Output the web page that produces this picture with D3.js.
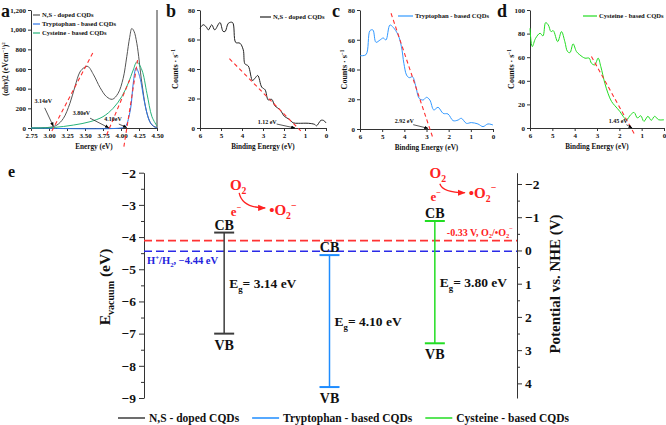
<!DOCTYPE html>
<html>
<head>
<meta charset="utf-8">
<script src="https://cdn.jsdelivr.net/npm/d3@7"></script>
<style>
body { margin: 0; background: #fff; }
svg text { font-family: 'Liberation Serif', 'Times New Roman', serif; font-weight: bold; }
</style>
</head>
<body>
<div id="chart"></div>
<script>
// ---- panel a : absorption (Tauc) curves ----
var absXTicks = [2.75, 3.00, 3.25, 3.50, 3.75, 4.00, 4.25, 4.50];
var absYTicks = [0, 200, 400, 600, 800, 1000, 1200];
var nsAbs = [[2.75,0],[2.9,2],[3.01,7],[3.11,30],[3.2,98],[3.29,250],[3.36,420],[3.43,570],[3.49,615],[3.54,626],[3.62,540],[3.71,410],[3.8,318],[3.88,292],[3.96,353],[4.03,505],[4.08,725],[4.12,920],[4.15,1012],[4.18,985],[4.22,861],[4.29,458],[4.36,152],[4.43,30],[4.5,5]];
var trpAbs = [[2.75,0],[4.0,0],[4.06,15],[4.13,183],[4.17,455],[4.21,612],[4.26,522],[4.33,251],[4.40,64],[4.47,8],[4.5,2]];
var cysAbs = [[2.75,0],[3.06,5],[3.34,30],[3.57,64],[3.75,115],[3.89,200],[4.01,318],[4.10,455],[4.17,590],[4.22,672],[4.29,590],[4.36,353],[4.43,115],[4.5,20]];
var absTangents = [[[3.04,-30],[3.62,780]], [[3.80,-71],[4.12,488]], [[4.04,-190],[4.23,690]]];
var absNotes = [
  {label: '3.14eV', text: [2.92, 250], from: [2.94, 205], to: [3.06, 18]},
  {label: '3.80eV', text: [3.45, 132], from: [3.57, 100], to: [3.83, 2]},
  {label: '4.10eV', text: [3.89, 75], from: [3.97, 40], to: [4.08, 5]}
];

// ---- panels b, c, d : UPS spectra ----
var upsXTicks = [6, 5, 4, 3, 2, 1, 0];
var upsYTicksB = [0, 20, 40, 60, 80];
var upsYTicksD = [0, 20, 40, 60, 80, 100];
var nsUps = [[6,67.6],[5.85,70],[5.7,68.5],[5.6,66.5],[5.44,70],[5.3,66.5],[5.05,71.5],[4.9,65.5],[4.8,65.5],[4.65,71],[4.45,71.5],[4.3,58],[4.1,57.5],[3.94,53],[3.86,43.5],[3.7,42],[3.5,32.2],[3.38,33.8],[3.25,35.6],[3.06,27.7],[2.9,25.9],[2.75,19],[2.59,19.5],[2.43,15],[2.19,12.4],[1.98,7.9],[1.76,6],[1.56,3.5],[1.32,3.2],[0.84,3.2],[0.55,2.5],[0.45,1.5],[0.24,5.2],[0.1,5],[0,3.4]];
var trpUps = [[6,49.3],[5.73,50],[5.55,66.1],[5.42,66.6],[5.28,58.3],[5.1,59.8],[4.95,61.2],[4.83,59.8],[4.65,69.9],[4.5,68.3],[4.28,63.2],[4.13,55.3],[4.02,44.1],[3.9,36.3],[3.78,34.5],[3.63,35.1],[3.48,28.5],[3.33,20.6],[3.15,19.5],[3.0,21.3],[2.85,19.5],[2.67,12.8],[2.48,14.6],[2.25,10.5],[2.03,10.1],[1.8,5.6],[1.58,6],[1.43,7.2],[1.2,3.8],[0.98,4.3],[0.68,3.4],[0.45,1.6],[0.23,3.4],[0,2.7]];
var cysUps = [[6,84.5],[5.9,69],[5.75,76],[5.55,80.3],[5.42,78],[5.3,89.3],[5.18,87.3],[5.06,81.7],[4.96,82.5],[4.76,73.2],[4.59,81.7],[4.44,73.2],[4.32,64.8],[4.21,63.9],[4.07,71.3],[3.92,64.8],[3.77,62],[3.54,59.2],[3.35,59.2],[3.25,54.9],[3.1,53.5],[2.95,59.2],[2.83,52.1],[2.65,38],[2.5,29],[2.35,22.5],[2.2,18.9],[1.98,14.1],[1.83,9.9],[1.68,7],[1.49,11.3],[1.34,13.2],[1.19,8.5],[1.04,10.4],[0.9,5.6],[0.72,9.9],[0.57,6.5],[0.42,9.9],[0.24,7],[0,7]];
var upsTangents = [[[4.6,47],[1.2,-2]], [[4.6,77.8],[2.73,-5.2]], [[3.25,60.6],[1.31,-5.6]]];
var upsNotes = [
  {label: '1.12 eV', text: [2.8, 2.7], from: [2.35, 2.7], to: [1.48, 0]},
  {label: '2.92 eV', text: [4.0, 4.3], from: [3.6, 2.9], to: [2.93, 0.45]},
  {label: '1.45 eV', text: [2.05, 4.2], from: [1.68, 2.8], to: [1.43, 0]}
];

// ---- panel e : band diagram ----
var bandNames = ['N,S - doped CQDs', 'Tryptophan - based CQDs', 'Cysteine - based CQDs'];
var bandColors = ['#3c3c3c', '#1e8cff', '#22dd22'];
var bandCB = [-3.86, -4.56, -3.50];
var bandVB = [-7.00, -8.66, -7.30];
var bandGap = ['3.14', '4.10', '3.80'];
var vacTicks = [-2, -3, -4, -5, -6, -7, -8, -9];
var nheTicks = [-2, -1, 0, 1, 2, 3, 4];
var levelE = [-4.11, -4.44]; // O2/.O2- and H+/H2
var o2Notes = [
  {bar: 0, e: -2.38, dx: 14, arrow: [1, 8, 27, 23], eDy: 31, oDy: 30},
  {bar: 2, e: -2.0, dx: 3, arrow: [2, 11, 27, 20], eDy: 28, oDy: 25}
];

var width = 666, height = 425;
var svg = d3.select('#chart').append('svg')
    .attr('width', width)
    .attr('height', height);

var defs = svg.append('defs');
function addMarker(id, color, size) {
    defs.append('marker')
        .attr('id', id)
        .attr('viewBox', '0 0 10 10')
        .attr('refX', 9).attr('refY', 5)
        .attr('markerWidth', size).attr('markerHeight', size)
        .attr('orient', 'auto')
      .append('path').attr('d', 'M0,1L10,5L0,9Z').attr('fill', color);
}
addMarker('arrK', '#000', 6);
addMarker('arrR', '#ff2222', 6);

//text with sub/superscripts, parts = [[str], [str,'sub'], [str,'sup']]
function addRich(g, x, y, parts, size, color, anchor) {
    var t = g.append('text')
        .attr('x', x).attr('y', y)
        .attr('font-size', size)
        .attr('fill', color || '#111')
        .attr('text-anchor', anchor || 'start');
    var shift = 0;
    parts.forEach(function (p) {
        var s = p[1] === 'sup' ? -0.42 * size : (p[1] === 'sub' ? 0.28 * size : 0);
        t.append('tspan')
            .attr('dy', s - shift)
            .attr('font-size', p[1] ? size * 0.65 : size)
            .text(p[0]);
        shift = s;
    });
    return t;
}

function styleAxis(g, size) {
    g.attr('font-family', null);
    g.selectAll('text').attr('font-size', size).attr('fill', '#111');
    g.selectAll('path, line').attr('stroke', '#333').attr('stroke-width', 1);
}

var smooth = d3.line().curve(d3.curveCatmullRom.alpha(0.5));

//draws one small spectrum panel
function buildPanel(opt) {
    var g = svg.append('g');
    var x = opt.x, y = opt.y;
    var xr = x.range(), yr = y.range();

    var xAxis = g.append('g')
        .attr('transform', 'translate(0,' + yr[0] + ')')
        .call(d3.axisBottom(x).tickValues(opt.xTicks).tickSize(3).tickSizeOuter(0).tickPadding(2).tickFormat(opt.xFmt));
    styleAxis(xAxis, 7);
    var yAxis = g.append('g')
        .attr('transform', 'translate(' + xr[0] + ',0)')
        .call(d3.axisLeft(y).tickValues(opt.yTicks).tickSize(3).tickSizeOuter(0).tickPadding(2));
    styleAxis(yAxis, 7);
    if (opt.rightBorder) {
        g.append('line').attr('x1', xr[1]).attr('x2', xr[1]).attr('y1', yr[0]).attr('y2', yr[1])
            .attr('stroke', '#333');
    }

    opt.series.forEach(function (s) {
        g.append('path')
            .attr('d', smooth(s.data.map(function (d) { return [x(d[0]), y(d[1])]; })))
            .attr('fill', 'none')
            .attr('stroke', s.color)
            .attr('stroke-width', 1);
    });

    opt.tangents.forEach(function (t) {
        g.append('line')
            .attr('x1', x(t[0][0])).attr('y1', y(t[0][1]))
            .attr('x2', x(t[1][0])).attr('y2', y(t[1][1]))
            .attr('stroke', '#ff3030')
            .attr('stroke-width', 1.1)
            .attr('stroke-dasharray', '4,3');
    });

    opt.notes.forEach(function (n) {
        g.append('text')
            .attr('x', x(n.text[0])).attr('y', y(n.text[1]))
            .attr('font-size', 6)
            .attr('text-anchor', 'middle')
            .attr('fill', '#111')
            .text(n.label);
        g.append('line')
            .attr('x1', x(n.from[0])).attr('y1', y(n.from[1]))
            .attr('x2', x(n.to[0])).attr('y2', y(n.to[1]))
            .attr('stroke', '#111').attr('stroke-width', 0.7)
            .attr('marker-end', 'url(#arrK)');
    });

    //legend
    var lx = opt.legend.x, ly = opt.legend.y;
    opt.series.forEach(function (s, i) {
        g.append('line')
            .attr('x1', lx).attr('x2', lx + opt.legend.len)
            .attr('y1', ly + i * 9).attr('y2', ly + i * 9)
            .attr('stroke', s.color).attr('stroke-width', 1.2);
        g.append('text')
            .attr('x', lx + opt.legend.len + 2).attr('y', ly + i * 9 + 2.3)
            .attr('font-size', 6.6).attr('fill', '#111')
            .text(s.name);
    });

    //axis titles
    g.append('text')
        .attr('x', (xr[0] + xr[1]) / 2).attr('y', yr[0] + 21)
        .attr('text-anchor', 'middle')
        .attr('font-size', 7.2).attr('fill', '#111')
        .text(opt.xTitle);
    var yt = g.append('g').attr('transform', 'translate(' + opt.yTitleX + ',' + ((yr[0] + yr[1]) / 2) + ') rotate(-90)');
    addRich(yt, 0, 0, opt.yTitle, opt.yTitleSize || 8, '#111', 'middle');

    g.append('text')
        .attr('x', opt.tag[0]).attr('y', opt.tag[1])
        .attr('font-size', 18).attr('fill', '#111')
        .text(opt.tagText);
}

var fmt2 = d3.format('.2f');

buildPanel({
    x: d3.scaleLinear().domain([2.75, 4.5]).range([31, 157]),
    y: d3.scaleLinear().domain([0, 1200]).range([128, 10]),
    xTicks: absXTicks, yTicks: absYTicks, xFmt: fmt2, rightBorder: true,
    series: [
        {name: 'N,S - doped CQDs', data: nsAbs, color: '#555'},
        {name: 'Tryptophan - based CQDs', data: trpAbs, color: '#2f76e6'},
        {name: 'Cysteine - based CQDs', data: cysAbs, color: '#27b37a'}
    ],
    tangents: absTangents, notes: absNotes,
    legend: {x: 33, y: 15, len: 7},
    xTitle: 'Energy (eV)', yTitleX: 8, yTitleSize: 7.5,
    yTitle: [['(\u03b1h\u03bd)2 (eVcm'], ['\u22121', 'sup'], [')'], ['2', 'sup']],
    tag: [1, 17], tagText: 'a'
});

buildPanel({
    x: d3.scaleLinear().domain([6, 0]).range([200, 326]),
    y: d3.scaleLinear().domain([0, 80]).range([128, 10]),
    xTicks: upsXTicks, yTicks: upsYTicksB, xFmt: d3.format('d'),
    series: [{name: 'N,S - doped CQDs', data: nsUps, color: '#222'}],
    tangents: [upsTangents[0]], notes: [upsNotes[0]],
    legend: {x: 260, y: 17, len: 11},
    xTitle: 'Binding Energy (eV)', yTitleX: 178,
    yTitle: [['Counts \u00b7 s'], ['\u22121', 'sup']],
    tag: [166, 17], tagText: 'b'
});

buildPanel({
    x: d3.scaleLinear().domain([6, 0]).range([360, 493]),
    y: d3.scaleLinear().domain([0, 80]).range([129, 10]),
    xTicks: upsXTicks, yTicks: upsYTicksB, xFmt: d3.format('d'),
    series: [{name: 'Tryptophan - based CQDs', data: trpUps, color: '#3399ff'}],
    tangents: [upsTangents[1]], notes: [upsNotes[1]],
    legend: {x: 398, y: 16, len: 15},
    xTitle: 'Binding Energy (eV)', yTitleX: 347,
    yTitle: [['Counts \u00b7 s'], ['\u22121', 'sup']],
    tag: [332, 17], tagText: 'c'
});

buildPanel({
    x: d3.scaleLinear().domain([6, 0]).range([530, 664]),
    y: d3.scaleLinear().domain([0, 100]).range([128, 10]),
    xTicks: upsXTicks, yTicks: upsYTicksD, xFmt: d3.format('d'),
    series: [{name: 'Cysteine - based CQDs', data: cysUps, color: '#22dd22'}],
    tangents: [upsTangents[2]], notes: [upsNotes[2]],
    legend: {x: 583, y: 16, len: 14},
    xTitle: 'Binding Energy (eV)', yTitleX: 514,
    yTitle: [['Counts \u00b7 s'], ['\u22121', 'sup']],
    tag: [497, 17], tagText: 'd'
});

// ---- panel e ----
var eg = svg.append('g');
var yE = d3.scaleLinear().domain([-2, -9]).range([172.7, 398]);
var yN = d3.scaleLinear().domain([-2.34, 4.44]).range([172.7, 398]);
var xE = d3.scalePoint().domain(bandNames).range([142, 517]).padding(0.78);
var xLeft = 144, xRight = 517;
var intFmt = d3.format('d');

var leftAxis = eg.append('g').attr('transform', 'translate(' + xLeft + ',0)')
    .call(d3.axisLeft(yE).tickValues(vacTicks).tickSize(5).tickSizeOuter(0).tickPadding(3).tickFormat(intFmt));
styleAxis(leftAxis, 13.5);
var leftMinor = eg.append('g').attr('transform', 'translate(' + xLeft + ',0)')
    .call(d3.axisLeft(yE).tickValues(d3.range(-2.5, -9, -1)).tickSize(3).tickSizeOuter(0).tickFormat(''));
styleAxis(leftMinor, 13.5);
leftMinor.select('.domain').remove();

var rightAxis = eg.append('g').attr('transform', 'translate(' + xRight + ',0)')
    .call(d3.axisRight(yN).tickValues(nheTicks).tickSize(5).tickSizeOuter(0).tickPadding(3).tickFormat(intFmt));
styleAxis(rightAxis, 13.5);
var rightMinor = eg.append('g').attr('transform', 'translate(' + xRight + ',0)')
    .call(d3.axisRight(yN).tickValues(d3.range(-1.5, 4.4, 1)).tickSize(3).tickSizeOuter(0).tickFormat(''));
styleAxis(rightMinor, 13.5);
rightMinor.select('.domain').remove();

//dashed reference levels
eg.append('line')
    .attr('x1', xLeft).attr('x2', xRight)
    .attr('y1', yE(levelE[0])).attr('y2', yE(levelE[0]))
    .attr('stroke', '#ff3333').attr('stroke-width', 1.6).attr('stroke-dasharray', '8,4');
eg.append('line')
    .attr('x1', xLeft).attr('x2', xRight)
    .attr('y1', yE(levelE[1])).attr('y2', yE(levelE[1]))
    .attr('stroke', '#2a2ae8').attr('stroke-width', 1.6).attr('stroke-dasharray', '8,4');
addRich(eg, xRight - 4, yE(levelE[0]) - 5,
    [['-0.33 V, O'], ['2', 'sub'], ['/\u2022O'], ['2', 'sub'], ['\u2212', 'sup']], 10, '#ff2222', 'end');
addRich(eg, xLeft + 3, yE(levelE[1]) + 13,
    [['H'], ['+', 'sup'], ['/H'], ['2', 'sub'], [', \u22124.44 eV']], 10.5, '#2222dd', 'start');

//band bars
bandNames.forEach(function (name, i) {
    var cx = xE(name), c = bandColors[i];
    eg.append('line')
        .attr('x1', cx).attr('x2', cx)
        .attr('y1', yE(bandCB[i])).attr('y2', yE(bandVB[i]))
        .attr('stroke', c).attr('stroke-width', 1.5);
    [bandCB[i], bandVB[i]].forEach(function (v) {
        eg.append('line')
            .attr('x1', cx - 10).attr('x2', cx + 10)
            .attr('y1', yE(v)).attr('y2', yE(v))
            .attr('stroke', c).attr('stroke-width', 2);
    });
    eg.append('text')
        .attr('x', cx).attr('y', yE(bandCB[i]) - 3)
        .attr('text-anchor', 'middle').attr('font-size', 14).attr('fill', '#111')
        .text('CB');
    eg.append('text')
        .attr('x', cx).attr('y', yE(bandVB[i]) + 16)
        .attr('text-anchor', 'middle').attr('font-size', 14).attr('fill', '#111')
        .text('VB');
    addRich(eg, cx + 5, yE((bandCB[i] + bandVB[i]) / 2) + 5,
        [['E'], ['g', 'sub'], ['= ' + bandGap[i] + ' eV']], 13.5, '#111', 'start');
});

//O2 -> .O2- reduction notes
o2Notes.forEach(function (n) {
    var ox = xE(bandNames[n.bar]) + n.dx, oy = yE(n.e), a = n.arrow;
    addRich(eg, ox, oy + 5, [['O'], ['2', 'sub']], 15, '#ff2222', 'middle');
    eg.append('path')
        .attr('d', 'M' + (ox + a[0]) + ',' + (oy + a[1]) + ' Q' + (ox + a[0] + 3) + ',' + (oy + a[3]) + ' ' + (ox + a[2]) + ',' + (oy + a[3]))
        .attr('fill', 'none').attr('stroke', '#ff2222').attr('stroke-width', 1.3)
        .attr('marker-end', 'url(#arrR)');
    addRich(eg, ox - 2, oy + n.eDy, [['e'], ['\u2212', 'sup']], 13, '#ff2222', 'middle');
    addRich(eg, ox + a[2] + 4, oy + n.oDy, [['\u2022O'], ['2', 'sub'], ['\u2212', 'sup']], 15, '#ff2222', 'start');
});

//axis titles
var lt = eg.append('g').attr('transform', 'translate(110,287) rotate(-90)');
addRich(lt, 0, 0, [['E'], ['vacuum', 'sub'], [' (eV)']], 15.5, '#111', 'middle');
eg.append('text')
    .attr('transform', 'translate(560,284) rotate(-90)')
    .attr('text-anchor', 'middle').attr('font-size', 15).attr('fill', '#111')
    .text('Potential vs. NHE (V)');
eg.append('text').attr('x', 8).attr('y', 177).attr('font-size', 16).attr('fill', '#111').text('e');

//bottom legend
var legX = 118, legY = 418;
bandNames.forEach(function (name, i) {
    eg.append('line')
        .attr('x1', legX).attr('x2', legX + 27)
        .attr('y1', legY).attr('y2', legY)
        .attr('stroke', bandColors[i]).attr('stroke-width', 1.5);
    var t = eg.append('text')
        .attr('x', legX + 31).attr('y', legY + 4)
        .attr('font-size', 11.5).attr('fill', '#111')
        .text(name);
    legX += 31 + t.node().getComputedTextLength() + 13;
});
</script>
</body>
</html>
